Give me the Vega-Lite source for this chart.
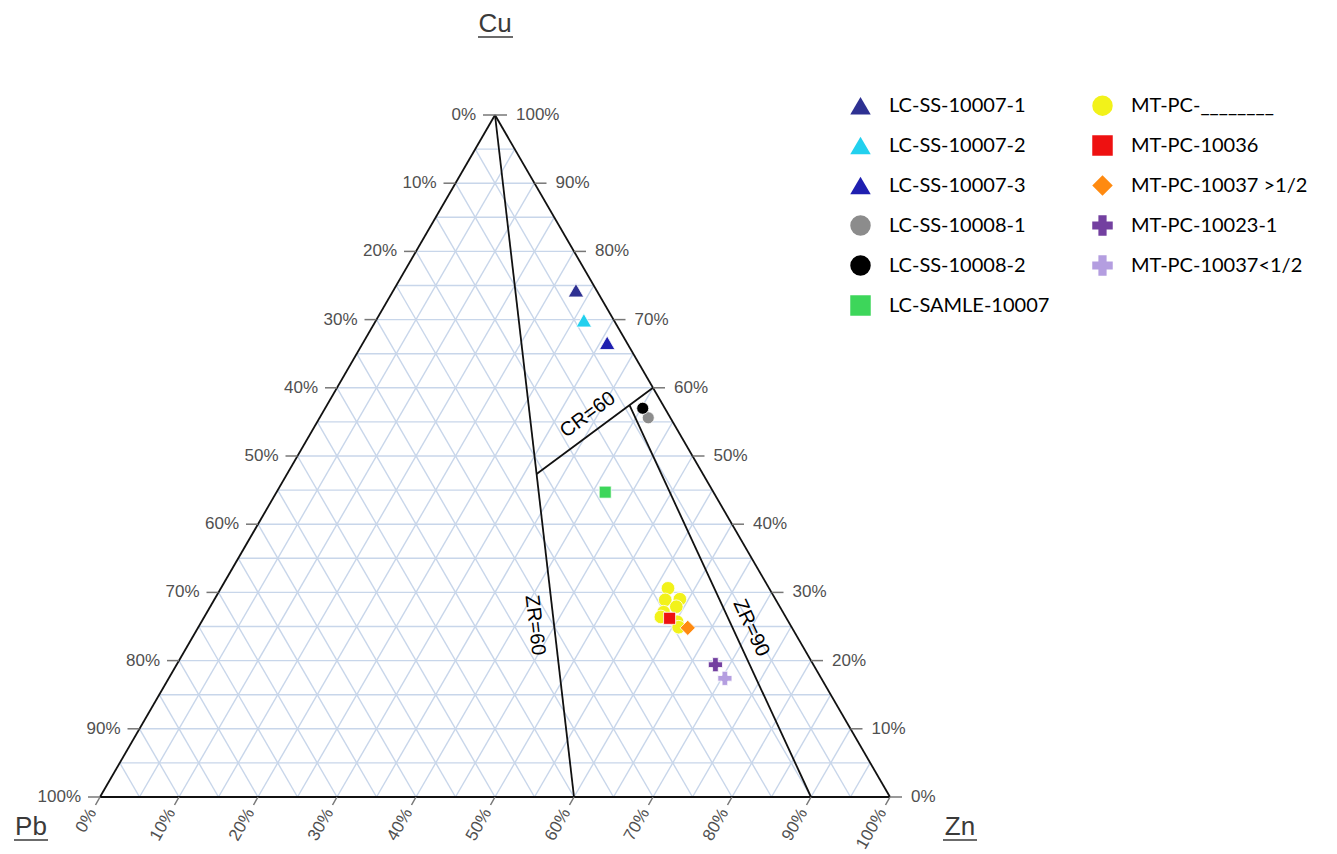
{
  "$schema": "https://vega.github.io/schema/vega-lite/v6.json",
  "width": 790,
  "height": 682,
  "autosize": {"type": "none"},
  "padding": {"left": 100, "top": 115, "right": 447, "bottom": 57},
  "background": "white",
  "config": {"view": {"stroke": null}},
  "datasets": {
    "grid": [{"v":5},{"v":10},{"v":15},{"v":20},{"v":25},{"v":30},{"v":35},{"v":40},{"v":45},{"v":50},{"v":55},{"v":60},{"v":65},{"v":70},{"v":75},{"v":80},{"v":85},{"v":90},{"v":95}],
    "ticks": [{"t":0},{"t":10},{"t":20},{"t":30},{"t":40},{"t":50},{"t":60},{"t":70},{"t":80},{"t":90},{"t":100}],
    "lines": [
      {"name":"bottom","Cu1":0,"Zn1":0,"Cu2":0,"Zn2":100},
      {"name":"left","Cu1":0,"Zn1":0,"Cu2":100,"Zn2":0},
      {"name":"right","Cu1":0,"Zn1":100,"Cu2":100,"Zn2":0},
      {"name":"ZR=60","Cu1":100,"Zn1":0,"Cu2":0,"Zn2":60},
      {"name":"CR=60","Cu1":47.37,"Zn1":31.58,"Cu2":60,"Zn2":40},
      {"name":"ZR=90","Cu1":57.45,"Zn1":38.30,"Cu2":0,"Zn2":90}
    ],
    "samples": [
      {"series":"LC-SS-10007-1","Cu":74.3,"Zn":23.1,"Pb":2.6},
      {"series":"LC-SS-10007-2","Cu":69.9,"Zn":26.3,"Pb":3.8},
      {"series":"LC-SS-10007-3","Cu":66.6,"Zn":30.9,"Pb":2.5},
      {"series":"LC-SS-10008-1","Cu":55.6,"Zn":41.6,"Pb":2.8},
      {"series":"LC-SS-10008-2","Cu":57.0,"Zn":40.2,"Pb":2.8},
      {"series":"LC-SAMLE-10007","Cu":44.7,"Zn":41.6,"Pb":13.7},
      {"series":"MT-PC-________","Cu":30.6,"Zn":56.6,"Pb":12.8},
      {"series":"MT-PC-________","Cu":28.9,"Zn":57.1,"Pb":14.0},
      {"series":"MT-PC-________","Cu":29.0,"Zn":58.9,"Pb":12.1},
      {"series":"MT-PC-________","Cu":27.9,"Zn":59.0,"Pb":13.1},
      {"series":"MT-PC-________","Cu":27.1,"Zn":57.8,"Pb":15.1},
      {"series":"MT-PC-________","Cu":26.4,"Zn":57.8,"Pb":15.8},
      {"series":"MT-PC-________","Cu":25.7,"Zn":60.2,"Pb":14.1},
      {"series":"MT-PC-________","Cu":24.9,"Zn":60.8,"Pb":14.3},
      {"series":"MT-PC-10036","Cu":26.2,"Zn":59.0,"Pb":14.8},
      {"series":"MT-PC-10037 >1/2","Cu":24.8,"Zn":62.0,"Pb":13.2},
      {"series":"MT-PC-10023-1","Cu":19.4,"Zn":68.2,"Pb":12.4},
      {"series":"MT-PC-10037<1/2","Cu":17.4,"Zn":70.4,"Pb":12.2}
    ]
  },
  "encoding": {
    "x": {"field": "px", "type": "quantitative", "scale": {"domain": [0, 100], "nice": false, "zero": false}, "axis": null},
    "y": {"field": "py", "type": "quantitative", "scale": {"domain": [0, 100], "nice": false, "zero": false}, "axis": null}
  },
  "layer": [
    {
      "data": {"name": "grid"},
      "transform": [
        {"calculate": "datum.v/2", "as": "px"},
        {"calculate": "100-datum.v/2", "as": "px2"},
        {"calculate": "datum.v", "as": "py"}
      ],
      "mark": {"type": "rule", "color": "#c8d6ea", "strokeWidth": 1.4},
      "encoding": {"x2": {"field": "px2"}}
    },
    {
      "data": {"name": "grid"},
      "transform": [
        {"calculate": "datum.v", "as": "px"},
        {"calculate": "50+datum.v/2", "as": "px2"},
        {"calculate": "0", "as": "py"},
        {"calculate": "100-datum.v", "as": "py2"}
      ],
      "mark": {"type": "rule", "color": "#c8d6ea", "strokeWidth": 1.4},
      "encoding": {"x2": {"field": "px2"}, "y2": {"field": "py2"}}
    },
    {
      "data": {"name": "grid"},
      "transform": [
        {"calculate": "100-datum.v", "as": "px"},
        {"calculate": "(100-datum.v)/2", "as": "px2"},
        {"calculate": "0", "as": "py"},
        {"calculate": "100-datum.v", "as": "py2"}
      ],
      "mark": {"type": "rule", "color": "#c8d6ea", "strokeWidth": 1.4},
      "encoding": {"x2": {"field": "px2"}, "y2": {"field": "py2"}}
    },
    {
      "data": {"name": "lines"},
      "transform": [
        {"calculate": "datum.Zn1 + datum.Cu1/2", "as": "px"},
        {"calculate": "datum.Cu1", "as": "py"},
        {"calculate": "datum.Zn2 + datum.Cu2/2", "as": "px2"},
        {"calculate": "datum.Cu2", "as": "py2"}
      ],
      "mark": {"type": "rule", "color": "#111111", "strokeWidth": 1.8},
      "encoding": {"x2": {"field": "px2"}, "y2": {"field": "py2"}}
    },
    {
      "data": {"name": "ticks"},
      "transform": [
        {"calculate": "(100-datum.t)/2", "as": "px"},
        {"calculate": "100-datum.t", "as": "py"}
      ],
      "mark": {"type": "rule", "color": "#777777", "strokeWidth": 1.5, "x2Offset": -12},
      "encoding": {"x2": {"field": "px"}}
    },
    {
      "data": {"name": "ticks"},
      "transform": [
        {"calculate": "100-datum.t/2", "as": "px"},
        {"calculate": "datum.t", "as": "py"}
      ],
      "mark": {"type": "rule", "color": "#777777", "strokeWidth": 1.5, "x2Offset": 12},
      "encoding": {"x2": {"field": "px"}}
    },
    {
      "data": {"name": "ticks"},
      "transform": [
        {"calculate": "datum.t", "as": "px"},
        {"calculate": "0", "as": "py"}
      ],
      "mark": {"type": "rule", "color": "#777777", "strokeWidth": 1.5, "x2Offset": -4.5, "y2Offset": 8},
      "encoding": {"x2": {"field": "px"}, "y2": {"field": "py"}}
    },
    {
      "data": {"name": "ticks"},
      "transform": [
        {"calculate": "(100-datum.t)/2", "as": "px"},
        {"calculate": "100-datum.t", "as": "py"},
        {"calculate": "datum.t + '%'", "as": "lab"}
      ],
      "mark": {"type": "text", "align": "right", "baseline": "middle", "dx": -19, "font": "Liberation Sans", "fontSize": 17, "fill": "#505050"},
      "encoding": {"text": {"field": "lab"}}
    },
    {
      "data": {"name": "ticks"},
      "transform": [
        {"calculate": "100-datum.t/2", "as": "px"},
        {"calculate": "datum.t", "as": "py"},
        {"calculate": "datum.t + '%'", "as": "lab"}
      ],
      "mark": {"type": "text", "align": "left", "baseline": "middle", "dx": 21, "font": "Liberation Sans", "fontSize": 17, "fill": "#505050"},
      "encoding": {"text": {"field": "lab"}}
    },
    {
      "data": {"name": "ticks"},
      "transform": [
        {"calculate": "datum.t", "as": "px"},
        {"calculate": "0", "as": "py"},
        {"calculate": "datum.t + '%'", "as": "lab"}
      ],
      "mark": {"type": "text", "align": "right", "baseline": "middle", "angle": 300, "dx": -15, "font": "Liberation Sans", "fontSize": 17, "fill": "#505050"},
      "encoding": {"text": {"field": "lab"}}
    },
    {
      "data": {"values": [{"label": "Cu", "px": 50, "py": 100}]},
      "mark": {"type": "text", "align": "center", "baseline": "alphabetic", "dy": -83, "font": "Liberation Sans", "fontSize": 26, "fill": "#3a3a3a"},
      "encoding": {"text": {"field": "label"}}
    },
    {
      "data": {"values": [{"label": "Pb", "px": 0, "py": 0}]},
      "mark": {"type": "text", "align": "center", "baseline": "alphabetic", "dx": -69, "dy": 38, "font": "Liberation Sans", "fontSize": 26, "fill": "#3a3a3a"},
      "encoding": {"text": {"field": "label"}}
    },
    {
      "data": {"values": [{"label": "Zn", "px": 100, "py": 0}]},
      "mark": {"type": "text", "align": "center", "baseline": "alphabetic", "dx": 70, "dy": 38, "font": "Liberation Sans", "fontSize": 26, "fill": "#3a3a3a"},
      "encoding": {"text": {"field": "label"}}
    },
    {
      "data": {"values": [{"label": "Cu", "px": 50, "py": 100}]},
      "mark": {"type": "rule", "color": "#3a3a3a", "strokeWidth": 1.5, "xOffset": -17, "x2Offset": 18, "yOffset": -78, "y2Offset": -78},
      "encoding": {"x2": {"field": "px"}, "y2": {"field": "py"}}
    },
    {
      "data": {"values": [{"label": "Pb", "px": 0, "py": 0}]},
      "mark": {"type": "rule", "color": "#3a3a3a", "strokeWidth": 1.5, "xOffset": -86, "x2Offset": -52, "yOffset": 43, "y2Offset": 43},
      "encoding": {"x2": {"field": "px"}, "y2": {"field": "py"}}
    },
    {
      "data": {"values": [{"label": "Zn", "px": 100, "py": 0}]},
      "mark": {"type": "rule", "color": "#3a3a3a", "strokeWidth": 1.5, "xOffset": 53, "x2Offset": 87, "yOffset": 43, "y2Offset": 43},
      "encoding": {"x2": {"field": "px"}, "y2": {"field": "py"}}
    },
    {
      "data": {"values": [{"label": "CR=60", "Cu": 54.4, "Zn": 35.6}]},
      "transform": [
        {"calculate": "datum.Zn + datum.Cu/2", "as": "px"},
        {"calculate": "datum.Cu", "as": "py"}
      ],
      "mark": {"type": "text", "align": "center", "baseline": "middle", "angle": 323.5, "dy": -14, "font": "Liberation Sans", "fontSize": 20, "fill": "#000000"},
      "encoding": {"text": {"field": "label"}}
    },
    {
      "data": {"values": [{"label": "ZR=60", "Cu": 25.5, "Zn": 44.7}]},
      "transform": [
        {"calculate": "datum.Zn + datum.Cu/2", "as": "px"},
        {"calculate": "datum.Cu", "as": "py"}
      ],
      "mark": {"type": "text", "align": "center", "baseline": "middle", "angle": 83.4, "dy": 19, "font": "Liberation Sans", "fontSize": 20, "fill": "#000000"},
      "encoding": {"text": {"field": "label"}}
    },
    {
      "data": {"values": [{"label": "ZR=90", "Cu": 23.75, "Zn": 68.6}]},
      "transform": [
        {"calculate": "datum.Zn + datum.Cu/2", "as": "px"},
        {"calculate": "datum.Cu", "as": "py"}
      ],
      "mark": {"type": "text", "align": "center", "baseline": "middle", "angle": 65.1, "dy": -17, "font": "Liberation Sans", "fontSize": 20, "fill": "#000000"},
      "encoding": {"text": {"field": "label"}}
    },
    {
      "data": {"name": "samples"},
      "transform": [
        {"calculate": "datum.Zn + datum.Cu/2", "as": "px"},
        {"calculate": "datum.Cu", "as": "py"}
      ],
      "mark": {"type": "point", "filled": true, "opacity": 1, "stroke": "#ffffff", "strokeWidth": 0.8},
      "encoding": {
        "color": {
          "field": "series", "type": "nominal",
          "scale": {
            "domain": ["LC-SS-10007-1","LC-SS-10007-2","LC-SS-10007-3","LC-SS-10008-1","LC-SS-10008-2","LC-SAMLE-10007","MT-PC-________","MT-PC-10036","MT-PC-10037 >1/2","MT-PC-10023-1","MT-PC-10037<1/2"],
            "range": ["#2e3192","#22d0ee","#1f1fb0","#8c8c8c","#000000","#3dd65a","#f2f21a","#ee1111","#ff8a10","#7340a0","#b49ee0"]
          },
          "legend": {"title": null, "orient": "none", "legendX": 750, "legendY": -20, "columns": 2, "columnPadding": 42, "rowPadding": 19, "symbolSize": 420, "symbolStrokeWidth": 0, "labelFont": "Lato", "labelFontSize": 20, "labelColor": "#000000", "labelOffset": 18, "labelLimit": 400, "padding": 0, "encode": {"symbols": {"update": {"size": [{"test": "datum.value === 'MT-PC-10037 >1/2'", "value": 820}, {"test": "datum.value === 'MT-PC-10023-1' || datum.value === 'MT-PC-10037<1/2'", "value": 600}, {"test": "datum.value === 'MT-PC-10036' || datum.value === 'LC-SAMLE-10007'", "value": 370}, {"value": 430}], "strokeWidth": {"value": 0}}}}}
        },
        "shape": {
          "field": "series", "type": "nominal",
          "scale": {
            "domain": ["LC-SS-10007-1","LC-SS-10007-2","LC-SS-10007-3","LC-SS-10008-1","LC-SS-10008-2","LC-SAMLE-10007","MT-PC-________","MT-PC-10036","MT-PC-10037 >1/2","MT-PC-10023-1","MT-PC-10037<1/2"],
            "range": ["triangle-up","triangle-up","triangle-up","circle","circle","square","circle","square","diamond","cross","cross"]
          },
          "legend": {"title": null, "orient": "none", "legendX": 750, "legendY": -20, "columns": 2, "columnPadding": 42, "rowPadding": 19, "symbolSize": 420, "symbolStrokeWidth": 0, "labelFont": "Lato", "labelFontSize": 20, "labelColor": "#000000", "labelOffset": 18, "labelLimit": 400, "padding": 0, "encode": {"symbols": {"update": {"size": [{"test": "datum.value === 'MT-PC-10037 >1/2'", "value": 820}, {"test": "datum.value === 'MT-PC-10023-1' || datum.value === 'MT-PC-10037<1/2'", "value": 600}, {"test": "datum.value === 'MT-PC-10036' || datum.value === 'LC-SAMLE-10007'", "value": 370}, {"value": 430}], "strokeWidth": {"value": 0}}}}}
        },
        "size": {
          "condition": [
            {"test": {"field": "series", "oneOf": ["LC-SS-10007-1","LC-SS-10007-2","LC-SS-10007-3"]}, "value": 240},
            {"test": {"field": "series", "oneOf": ["MT-PC-10023-1","MT-PC-10037<1/2"]}, "value": 200},
            {"test": {"field": "series", "equal": "MT-PC-________"}, "value": 185},
            {"test": {"field": "series", "equal": "MT-PC-10037 >1/2"}, "value": 230}
          ],
          "value": 145
        }
      }
    }
  ]
}
